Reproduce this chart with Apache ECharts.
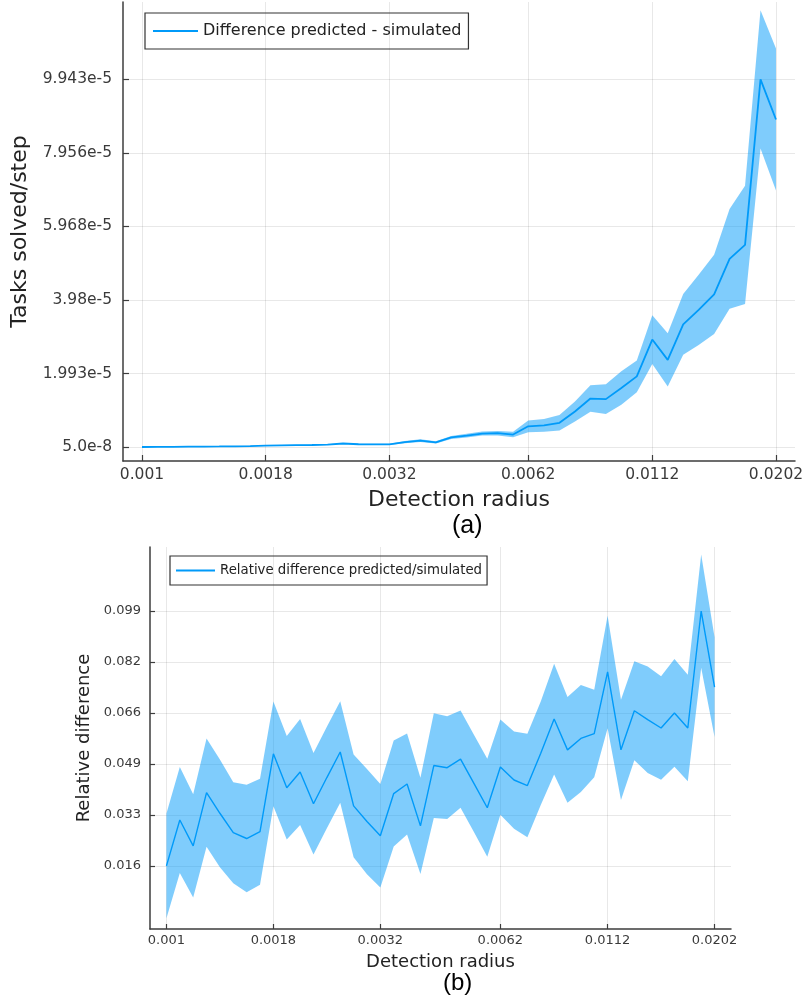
<!DOCTYPE html>
<html>
<head>
<meta charset="utf-8">
<script src="https://cdn.jsdelivr.net/npm/echarts@6/dist/echarts.min.js"></script>
<style>
  html, body { margin: 0; padding: 0; background: #ffffff; }
  #chart { width: 804px; height: 1004px; }
</style>
</head>
<body>
<div id="chart"></div>
<script>
// Detection radii (log-spaced sample grid)
const radius = [
  0.0010000, 0.0010761, 0.0011579, 0.0012460, 0.0013407, 0.0014427, 0.0015524, 0.0016705,
  0.0017977, 0.0019344, 0.0020815, 0.0022398, 0.0024101, 0.0025935, 0.0027907, 0.0030030,
  0.0032314, 0.0034772, 0.0037417, 0.0040263, 0.0043325, 0.0046621, 0.0050167, 0.0053983,
  0.0058089, 0.0062407, 0.0067261, 0.0072378, 0.0077883, 0.0083807, 0.0090181, 0.0097041,
  0.010442, 0.011237, 0.012091, 0.013011, 0.014000, 0.015065, 0.016211, 0.017444,
  0.018771, 0.020200
];
const xTickIndex = [0, 8, 16, 25, 33, 41];
const xTickLabels = ['0.001', '0.0018', '0.0032', '0.0062', '0.0112', '0.0202'];

// (a) difference predicted - simulated, tasks solved per step
const diffMean = [
  5.0e-8, 8.0e-8, 1.0e-7, 1.5e-7, 1.8e-7, 2.0e-7, 2.5e-7, 3.0e-7,
  4.5e-7, 5.0e-7, 5.5e-7, 6.0e-7, 7.0e-7, 1.0e-6, 8.0e-7, 7.5e-7,
  7.5e-7, 1.35e-6, 1.78e-6, 1.32e-6, 2.65e-6, 3.15e-6, 3.69e-6, 3.78e-6,
  3.42e-6, 5.65e-6, 5.90e-6, 6.60e-6, 9.65e-6, 1.315e-5, 1.300e-5, 1.600e-5,
  1.915e-5, 2.910e-5, 2.360e-5, 3.320e-5, 3.710e-5, 4.130e-5, 5.090e-5, 5.470e-5,
  9.943e-5, 8.860e-5
];
const diffErr = [
  4e-8, 4e-8, 5e-8, 5e-8, 5e-8, 6e-8, 6e-8, 7e-8,
  8e-8, 8e-8, 9e-8, 1.0e-7, 1.2e-7, 1.5e-7, 1.5e-7, 1.6e-7,
  1.8e-7, 3.0e-7, 3.5e-7, 3.0e-7, 4.0e-7, 5.0e-7, 5.5e-7, 6.0e-7,
  7.5e-7, 1.6e-6, 1.7e-6, 2.1e-6, 2.7e-6, 3.6e-6, 4.0e-6, 4.5e-6,
  4.3e-6, 6.6e-6, 7.2e-6, 8.2e-6, 9.5e-6, 1.07e-5, 1.35e-5, 1.60e-5,
  1.87e-5, 1.92e-5
];
const diffTicks = [5.0e-8, 1.99268e-5, 3.98036e-5, 5.96804e-5, 7.95572e-5, 9.9434e-5];
const diffTickLabels = ['5.0e-8', '1.993e-5', '3.98e-5', '5.968e-5', '7.956e-5', '9.943e-5'];

// (b) relative difference predicted/simulated
const relMean = [
  0.0162, 0.0311, 0.0227, 0.0400, 0.0333, 0.0270, 0.0251, 0.0273,
  0.0526, 0.0416, 0.0467, 0.0364, 0.0449, 0.0532, 0.0357, 0.0306,
  0.0260, 0.0397, 0.0428, 0.0292, 0.0488, 0.0481, 0.0509, 0.0430,
  0.0351, 0.0483, 0.0441, 0.0423, 0.0528, 0.0639, 0.0539, 0.0576,
  0.0592, 0.0792, 0.0539, 0.0666, 0.0637, 0.0610, 0.0659, 0.0610,
  0.0990, 0.0743
];
const relErr = [
  0.0170, 0.0172, 0.0168, 0.0176, 0.0175, 0.0164, 0.0175, 0.0172,
  0.0170, 0.0168, 0.0172, 0.0165, 0.0165, 0.0165, 0.0167, 0.0171,
  0.0168, 0.0172, 0.0164, 0.0156, 0.0170, 0.0167, 0.0158, 0.0158,
  0.0159, 0.0155, 0.0158, 0.0168, 0.0168, 0.0180, 0.0172, 0.0174,
  0.0142, 0.0183, 0.0163, 0.0161, 0.0173, 0.0168, 0.0175, 0.0173,
  0.0184, 0.0162
];
const relTicks = [0.0162, 0.03276, 0.04932, 0.06588, 0.08244, 0.0990];
const relTickLabels = ['0.016', '0.033', '0.049', '0.066', '0.082', '0.099'];

const FONT = 'DejaVu Sans';
const LINE_COLOR = '#009af9';
const BAND_COLOR = 'rgba(0, 154, 250, 0.5)';
const AXIS_COLOR = '#3d3d3d';
const GRID_COLOR = 'rgba(0, 0, 0, 0.09)';

const logX = radius.map(r => Math.log10(r));
const xTickPos = xTickIndex.map(i => logX[i]);
const xSpan = logX[logX.length - 1] - logX[0];
const xMin = logX[0] - 0.03 * xSpan;
const xMax = logX[logX.length - 1] + 0.03 * xSpan;

function nearestLabel(ticks, labels, v) {
  let best = 0;
  for (let k = 1; k < ticks.length; k++) {
    if (Math.abs(ticks[k] - v) < Math.abs(ticks[best] - v)) best = k;
  }
  return labels[best];
}

function xAxisFor(gridIndex, fontSize, nameSize, nameGap, labelMargin, tickLen) {
  return {
    type: 'value', gridIndex, min: xMin, max: xMax,
    name: 'Detection radius', nameLocation: 'middle', nameGap,
    nameTextStyle: { fontFamily: FONT, fontSize: nameSize, color: '#222' },
    axisLine: { show: true, onZero: false, lineStyle: { color: AXIS_COLOR, width: 1.5 } },
    axisTick: { show: true, inside: true, length: tickLen, customValues: xTickPos,
                lineStyle: { color: AXIS_COLOR, width: 1.2 } },
    axisLabel: { customValues: xTickPos, margin: labelMargin,
                 fontFamily: FONT, fontSize, color: '#3a3a3a',
                 formatter: v => nearestLabel(xTickPos, xTickLabels, v) },
    splitLine: { show: true, lineStyle: { color: GRID_COLOR, width: 1 } }
  };
}

function yAxisFor(gridIndex, name, min, max, ticks, labels, fontSize, nameSize, nameGap, labelMargin, tickLen) {
  return {
    type: 'value', gridIndex, min, max,
    name, nameLocation: 'middle', nameGap,
    nameTextStyle: { fontFamily: FONT, fontSize: nameSize, color: '#222' },
    axisLine: { show: true, onZero: false, lineStyle: { color: AXIS_COLOR, width: 1.5 } },
    axisTick: { show: true, inside: true, length: tickLen, customValues: ticks,
                lineStyle: { color: AXIS_COLOR, width: 1.2 } },
    axisLabel: { customValues: ticks, margin: labelMargin,
                 fontFamily: FONT, fontSize, color: '#3a3a3a',
                 formatter: v => nearestLabel(ticks, labels, v) },
    splitLine: { show: true, lineStyle: { color: GRID_COLOR, width: 1 } }
  };
}

// Shaded ribbon between mean - err and mean + err, drawn as one polygon
function ribbonSeries(idx, mean, err) {
  const upper = mean.map((m, i) => [logX[i], m + err[i]]);
  const lower = mean.map((m, i) => [logX[i], m - err[i]]);
  return {
    type: 'custom', xAxisIndex: idx, yAxisIndex: idx, silent: true, clip: false,
    animation: false,
    data: [[logX[0], mean[0]]],
    renderItem: (params, api) => {
      const pts = upper.map(p => api.coord(p))
        .concat(lower.slice().reverse().map(p => api.coord(p)));
      return {
        type: 'polygon',
        shape: { points: pts },
        style: { fill: BAND_COLOR, stroke: 'none' }
      };
    }
  };
}

function meanSeries(idx, name, mean, lineWidth) {
  return {
    type: 'line', name, xAxisIndex: idx, yAxisIndex: idx,
    data: mean.map((m, i) => [logX[i], m]),
    symbol: 'none', color: LINE_COLOR, z: 3,
    lineStyle: { color: LINE_COLOR, width: lineWidth }, animation: false
  };
}

const nameA = 'Difference predicted - simulated';
const nameB = 'Relative difference predicted/simulated';

const option = {
  backgroundColor: '#ffffff',
  animation: false,
  grid: [
    { left: 123, top: 2, width: 672, height: 459, outerBoundsMode: 'none', containLabel: false },
    { left: 150, top: 547, width: 581, height: 382, outerBoundsMode: 'none', containLabel: false }
  ],
  xAxis: [
    xAxisFor(0, 15.5, 22, 28, 6, 6),
    xAxisFor(1, 13, 18, 24, 5, 5)
  ],
  yAxis: [
    yAxisFor(0, 'Tasks solved/step', -3.73e-6, 1.2035e-4, diffTicks, diffTickLabels, 15.5, 22, 91, 11, 6),
    yAxisFor(1, 'Relative difference', -0.0043, 0.1198, relTicks, relTickLabels, 13, 18, 54, 9, 5)
  ],
  legend: [
    {
      left: 145, top: 13, orient: 'horizontal',
      data: [{ name: nameA, icon: 'rect' }],
      itemWidth: 45, itemHeight: 2,
      padding: [10, 7, 10, 8], borderColor: '#333', borderWidth: 1.2, borderRadius: 0,
      textStyle: { fontFamily: FONT, fontSize: 16, color: '#222' }
    },
    {
      left: 170, top: 556, orient: 'horizontal',
      data: [{ name: nameB, icon: 'rect' }],
      itemWidth: 39, itemHeight: 2,
      padding: [8, 5, 8, 6], borderColor: '#333', borderWidth: 1.2, borderRadius: 0,
      textStyle: { fontFamily: FONT, fontSize: 13.3, color: '#222' }
    }
  ],
  graphic: [
    { type: 'text', left: 452, top: 514,
      style: { text: '(a)', font: '25px "Liberation Sans"', fill: '#000' } },
    { type: 'text', left: 443, top: 971,
      style: { text: '(b)', font: '24px "Liberation Sans"', fill: '#000' } }
  ],
  series: [
    ribbonSeries(0, diffMean, diffErr),
    meanSeries(0, nameA, diffMean, 1.8),
    ribbonSeries(1, relMean, relErr),
    meanSeries(1, nameB, relMean, 1.4)
  ]
};

const chart = echarts.init(document.getElementById('chart'), null, { renderer: 'canvas' });
chart.setOption(option);
</script>
</body>
</html>
